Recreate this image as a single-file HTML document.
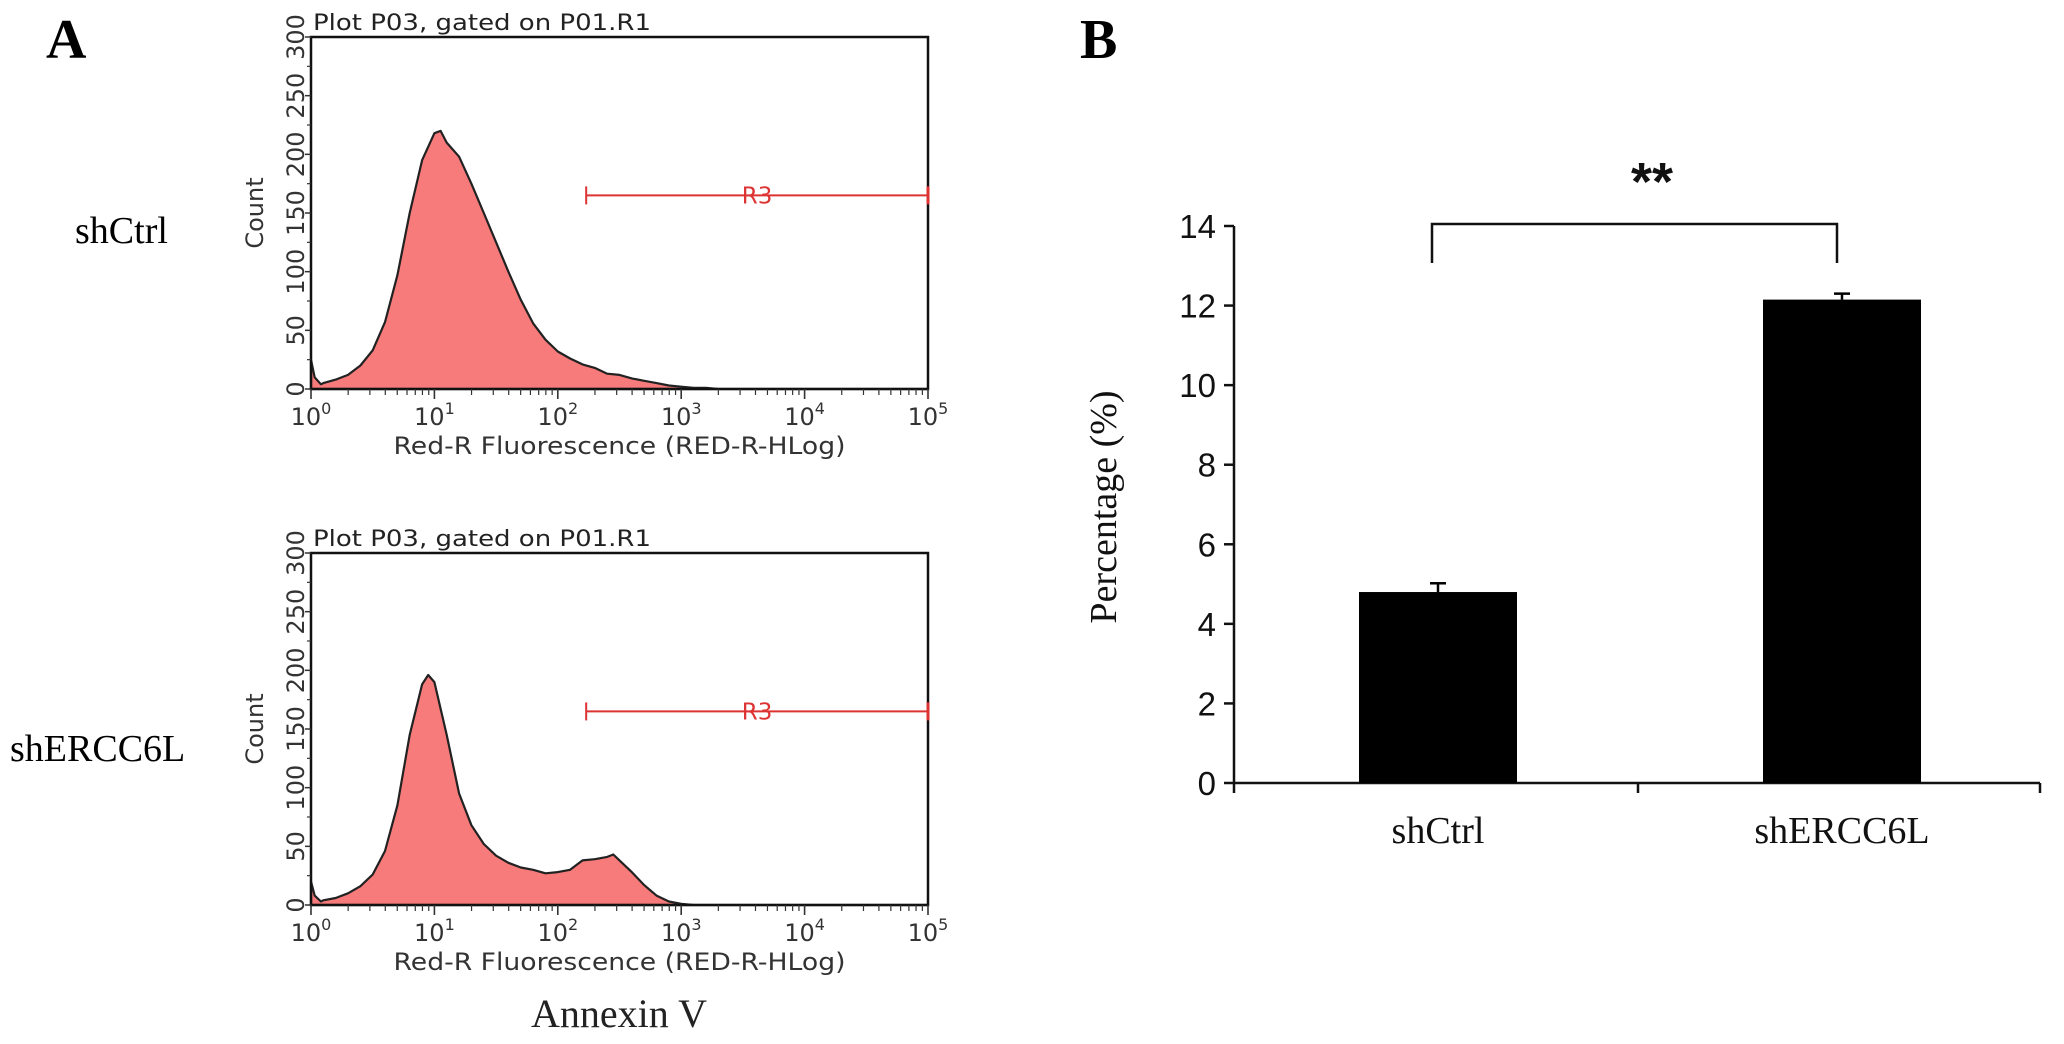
<!DOCTYPE html>
<html><head><meta charset="utf-8"><style>
html,body{margin:0;padding:0;background:#fff;}
svg{display:block;}
.mono{font-family:"DejaVu Sans","Liberation Sans",sans-serif;}
.serif{font-family:"Liberation Serif",serif;}
.sans{font-family:"Liberation Sans",sans-serif;}
</style></head><body>
<svg id="fig" width="2064" height="1044" viewBox="0 0 2064 1044" xmlns="http://www.w3.org/2000/svg">
<text class="serif" x="46" y="58" font-size="56" font-weight="bold">A</text>
<text class="serif" x="1080" y="58" font-size="56" font-weight="bold">B</text>
<text class="serif" x="75" y="243" font-size="38">shCtrl</text>
<text class="serif" x="10" y="761" font-size="38">shERCC6L</text>
<text class="serif" x="619" y="1027" font-size="40" text-anchor="middle" fill="#222">Annexin V</text>
<g id="histA"></g>
<g id="histB"></g>
<g id="bar"></g>
</svg>
<script>
// Histogram data: log10 fluorescence positions and counts
const logXA = [0,0.03,0.08,0.1,0.2,0.3,0.4,0.5,0.6,0.7,0.8,0.9,1.0,1.05,1.1,1.2,1.3,1.4,1.5,1.6,1.7,1.8,1.9,2.0,2.1,2.2,2.3,2.4,2.5,2.6,2.7,2.8,2.9,3.0,3.1,3.2,3.3,3.5,4,5];
const countsA = [25,10,4,5,8,12,20,33,57,97,150,195,218,220,210,198,175,150,125,100,76,56,42,32,26,21,18,13,12,9,7,5,3,2,1,1,0,0,0,0];
const logXB = [0,0.03,0.08,0.1,0.2,0.3,0.4,0.5,0.6,0.7,0.8,0.9,0.95,1.0,1.1,1.2,1.3,1.4,1.5,1.6,1.7,1.8,1.9,2.0,2.1,2.2,2.3,2.4,2.45,2.5,2.6,2.7,2.8,2.9,3.0,3.1,3.3,4,5];
const countsB = [20,8,3,4,6,10,16,26,46,85,145,188,196,190,145,95,68,52,42,36,32,30,27,28,30,38,39,41,43,38,28,17,8,3,1,0,0,0,0];
const yTicksHist = [0,50,100,150,200,250,300];
const xDecades = [0,1,2,3,4,5];
const gateStart = 2.23, gateEnd = 5, gateLevel = 165;

// Bar chart data
const categories = ["shCtrl","shERCC6L"];
const values = [4.8,12.15];
const errors = [0.22,0.15];
const yTicksBar = [0,2,4,6,8,10,12,14];

const NS="http://www.w3.org/2000/svg";
function mk(parent,tag,attrs,text){const e=document.createElementNS(NS,tag);for(const k in attrs)e.setAttribute(k,attrs[k]);if(text!==undefined)e.textContent=text;parent.appendChild(e);return e;}

function drawHist(g,top,logX,counts){
  const L=311,R=928,T=top,B=top+352;
  const sx=v=>L+(v/5)*(R-L);
  const sy=v=>B-(v/300)*(B-T);
  let t=mk(g,'text',{x:L+2,y:T-7,'font-size':22,fill:'#222',class:'mono',textLength:338,lengthAdjust:'spacingAndGlyphs'},'Plot P03, gated on P01.R1');
  
  
  let d='M'+sx(logX[0])+','+sy(0);
  for(let i=0;i<logX.length;i++) d+=' L'+sx(logX[i]).toFixed(1)+','+sy(counts[i]).toFixed(1);
  d+=' L'+sx(logX[logX.length-1])+','+sy(0)+'Z';
  let p=mk(g,'path',{d:d,fill:'#f77b7b',stroke:'#222','stroke-width':2.2,'stroke-linejoin':'round'});
  
  
  let box=mk(g,'rect',{x:L,y:T,width:R-L,height:B-T,fill:'none',stroke:'#111','stroke-width':2.5});
  
  
  yTicksHist.forEach(v=>{
    mk(g,'line',{x1:L-6,y1:sy(v),x2:L,y2:sy(v),stroke:'#333','stroke-width':1.5});
    let tl=mk(g,'text',{x:0,y:0,'font-size':24,fill:'#333',class:'mono','text-anchor':'middle',transform:`translate(${L-7},${sy(v)}) rotate(-90)`},String(v));
    
    
    if(v<300){mk(g,'line',{x1:L-4,y1:sy(v+25),x2:L,y2:sy(v+25),stroke:'#333','stroke-width':1.2});}
  });
  let yl=mk(g,'text',{x:0,y:0,'font-size':24,fill:'#333',class:'mono','text-anchor':'middle',transform:`translate(${L-48},${(T+B)/2}) rotate(-90)`},'Count');
  
  
  xDecades.forEach(dd=>{
    mk(g,'line',{x1:sx(dd),y1:B,x2:sx(dd),y2:B+10,stroke:'#333','stroke-width':1.6});
    if(dd<5){for(let k=2;k<10;k++){const xv=sx(dd+Math.log10(k));mk(g,'line',{x1:xv,y1:B,x2:xv,y2:B+6,stroke:'#333','stroke-width':1.2});}}
    let tl=mk(g,'text',{x:sx(dd),y:B+36,'font-size':24,fill:'#333',class:'mono','text-anchor':'middle'});
    
    
    mk(tl,'tspan',{},'10');
    mk(tl,'tspan',{dy:-11,'font-size':16},String(dd));
  });
  let xl=mk(g,'text',{x:(L+R)/2,y:B+65,'font-size':24,fill:'#333',class:'mono','text-anchor':'middle',textLength:452,lengthAdjust:'spacingAndGlyphs'},'Red-R Fluorescence (RED-R-HLog)');
  
  
  const gy=sy(gateLevel);
  let gl=mk(g,'line',{x1:sx(gateStart),y1:gy,x2:sx(gateEnd),y2:gy,stroke:'#d33','stroke-width':2});
  
  
  mk(g,'line',{x1:sx(gateStart),y1:gy-9,x2:sx(gateStart),y2:gy+9,stroke:'#d33','stroke-width':2});
  mk(g,'line',{x1:sx(gateEnd),y1:gy-9,x2:sx(gateEnd),y2:gy+9,stroke:'#d33','stroke-width':3});
  let gt=mk(g,'text',{x:(sx(gateStart)+sx(gateEnd))/2,y:gy+8,'font-size':23,fill:'#d33',class:'mono','text-anchor':'middle'},'R3');
  
  
}
drawHist(document.getElementById('histA'),37,logXA,countsA);
drawHist(document.getElementById('histB'),553,logXB,countsB);

(function(){
  const g=document.getElementById('bar');
  const L=1234,R=2040,B=783,T=226;
  const sy=v=>B-(v/14)*(B-T);
  const centers=[1438,1842], bw=158;
  mk(g,'line',{x1:L,y1:T,x2:L,y2:B+10,stroke:'#111','stroke-width':2.5});
  mk(g,'line',{x1:L,y1:B,x2:R,y2:B,stroke:'#111','stroke-width':2.5});
  mk(g,'line',{x1:1638,y1:B,x2:1638,y2:B+10,stroke:'#111','stroke-width':2.5});
  mk(g,'line',{x1:R,y1:B,x2:R,y2:B+10,stroke:'#111','stroke-width':2.5});
  yTicksBar.forEach(v=>{
    mk(g,'line',{x1:L-10,y1:sy(v),x2:L,y2:sy(v),stroke:'#111','stroke-width':2.5});
    let t=mk(g,'text',{x:L-18,y:sy(v)+12,'font-size':33,class:'sans','text-anchor':'end',fill:'#111'},String(v));
    
    
  });
  let yt=mk(g,'text',{x:0,y:0,'font-size':38,class:'serif','text-anchor':'middle',fill:'#111',transform:`translate(1116,507) rotate(-90)`},'Percentage (%)');
  
  
  categories.forEach((c,i)=>{
    let r=mk(g,'rect',{x:centers[i]-bw/2,y:sy(values[i]),width:bw,height:B-sy(values[i]),fill:'#000'});
    
    
    const e1=sy(values[i]+errors[i]);
    let el=mk(g,'line',{x1:centers[i],y1:e1,x2:centers[i],y2:sy(values[i]),stroke:'#000','stroke-width':2.5});
    
    
    mk(g,'line',{x1:centers[i]-8,y1:e1,x2:centers[i]+8,y2:e1,stroke:'#000','stroke-width':2.5});
    let t=mk(g,'text',{x:centers[i],y:843,'font-size':38,class:'serif','text-anchor':'middle',fill:'#111'},c);
    
    
  });
  let br=mk(g,'path',{d:'M1432,263 L1432,224 L1837,224 L1837,263',fill:'none',stroke:'#111','stroke-width':2.5});
  
  
  let st=mk(g,'text',{x:1652,y:200,'font-size':54,'font-weight':'bold',class:'sans','text-anchor':'middle',fill:'#111'},'**');
  
  
})();
</script>
</body></html>
